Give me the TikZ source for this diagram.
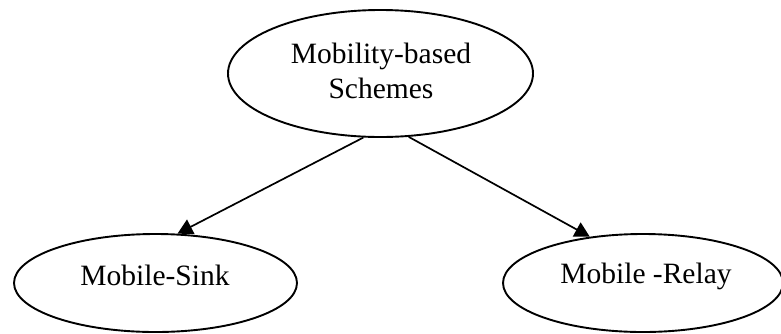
\documentclass[tikz,border=0pt]{standalone}
\usepackage{fontspec}
\setmainfont{Liberation Serif}
\usetikzlibrary{shapes.geometric,arrows.meta}

\begin{document}
\begin{tikzpicture}[x=1pt,y=-1pt,
  oval/.style={draw=black,line width=1.9pt,ellipse,inner sep=0pt},
  lbl/.style={font=\fontsize{29.5}{35}\selectfont,inner sep=0pt},
  link/.style={draw=black,line width=1.7pt,-{Triangle[length=15pt,width=16pt]}}]
  \useasboundingbox (0,0) rectangle (781,333);

  % ellipses
  \node[oval,minimum width=305pt,minimum height=127pt] (top) at (380.5,73.5) {};
  \node[oval,minimum width=283pt,minimum height=98pt] (sink) at (155.5,283) {};
  \node[oval,minimum width=280pt,minimum height=98pt] (relay) at (643,283) {};

  % labels
  \node[lbl,align=center] (toplbl) at (381,71) {Mobility-based\\Schemes};
  \node[lbl,anchor=base] (sinklbl) at (155,285) {Mobile-Sink};
  \node[lbl,anchor=base] (relaylbl) at (646,283) {Mobile -Relay};

  % arrows
  \draw[link] (top.255) -- (sink.66);
  \draw[link] (top.294) -- (relay.139);
\end{tikzpicture}
\end{document}
